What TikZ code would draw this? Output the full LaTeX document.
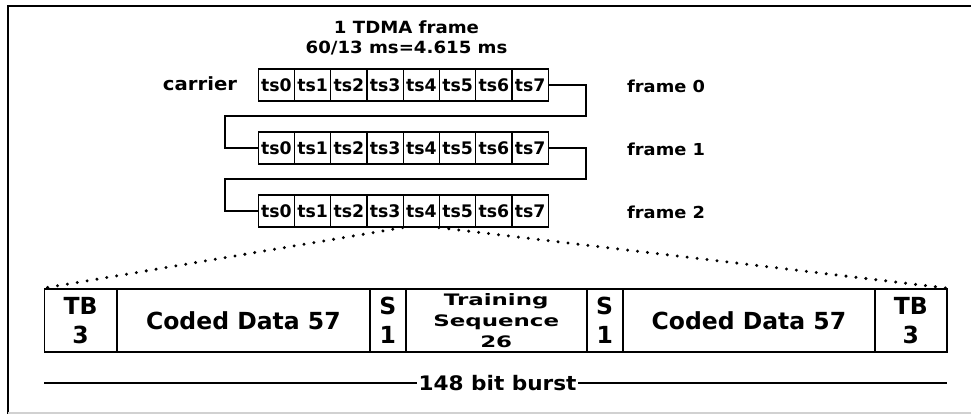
\documentclass[tikz,border=0pt]{standalone}
\usepackage{fontspec}
\setmainfont{DejaVu Sans}
\newfontfamily\fA{DejaVu Sans}[FakeStretch=1.08]
\newfontfamily\fT{DejaVu Sans}[FakeStretch=1.45]
\begin{document}
\begin{tikzpicture}[x=1pt,y=-1pt,
  cell/.style={draw,line width=1.3pt,minimum width=36.25pt,minimum height=32pt,inner sep=0pt,
    font=\bfseries\fontsize{17.3}{20}\selectfont},
  bcell/.style={draw,line width=1.6pt,minimum height=63pt,inner sep=0pt,align=center,
    font=\bfseries\fontsize{23.5}{29}\selectfont},
  lab/.style={inner sep=0pt,font=\fA\bfseries\fontsize{16.5}{18}\selectfont},
  conn/.style={line width=1.3pt},
  dots/.style={line width=3.3pt,line cap=round,dash pattern=on 0pt off 10pt}]
\useasboundingbox (0,0) rectangle (971,414);
% outer frame
\draw[line width=2pt] (8,414) -- (8,6) -- (971,6);
\draw[line width=1.5pt,black!18] (8,413) -- (971,413);
% titles
\node[lab,anchor=base,font=\fA\bfseries\fontsize{16.8}{18}\selectfont] (t1) at (406.5,33.3) {1 TDMA frame};
\node[lab,anchor=base,font=\fA\bfseries\fontsize{16.8}{18}\selectfont] (t2) at (406.5,53.3) {60/13 ms=4.615 ms};
\node[lab,anchor=base,font=\fA\bfseries\fontsize{18.2}{18}\selectfont] (carrier) at (200,90.7) {carrier};
% slot rows
\foreach \r/\yc in {0/85,1/148,2/211}{
  \foreach \i in {0,...,7}{
    \node[cell] (r\r c\i) at ({276.4+36.25*\i},\yc) {ts\i};
  }
}
\node[lab,anchor=base west] (f0) at (627,92.3) {frame 0};
\node[lab,anchor=base west] (f1) at (627,155.5) {frame 1};
\node[lab,anchor=base west] (f2) at (627,218.5) {frame 2};
% connectors between rows
\coordinate (k0a) at (586,116); \coordinate (k0b) at (225,116);
\draw[conn] (r0c7.east) -| (k0a) -- (k0b) |- (r1c0.west);
\coordinate (k1a) at (586,179); \coordinate (k1b) at (225,179);
\draw[conn] (r1c7.east) -| (k1a) -- (k1b) |- (r2c0.west);
% burst
\node[bcell,minimum width=72.4pt] (b1) at (80.5,320.5) {TB\\3};
\node[bcell,minimum width=253.3pt] (b2) at (243.35,320.5) {Coded Data 57};
\node[bcell,minimum width=35.7pt] (b3) at (387.85,320.5) {S\\1};
\node[bcell,minimum width=181pt,font=\fT\bfseries\fontsize{15.8}{20.7}\selectfont] (b4) at (496.2,320.5) {Training\\Sequence\\26};
\node[bcell,minimum width=36pt] (b5) at (604.7,320.5) {S\\1};
\node[bcell,minimum width=252.3pt] (b6) at (748.85,320.5) {Coded Data 57};
\node[bcell,minimum width=71.7pt] (b7) at (910.85,320.5) {TB\\3};
% zoom lines
\draw[dots] (r2c4.south west) -- (b1.north west);
\draw[dots] (r2c5.south west) -- (b7.north east);
% burst length
\node[lab,inner sep=1.5pt,font=\fA\bfseries\fontsize{20}{20}\selectfont] (bl) at (497.5,383) {148 bit burst};
\coordinate (bL) at (44.3,383); \coordinate (bR) at (946.7,383);
\draw[conn] (bL) -- (bl.west);
\draw[conn] (bl.east) -- (bR);
\end{tikzpicture}
\end{document}
